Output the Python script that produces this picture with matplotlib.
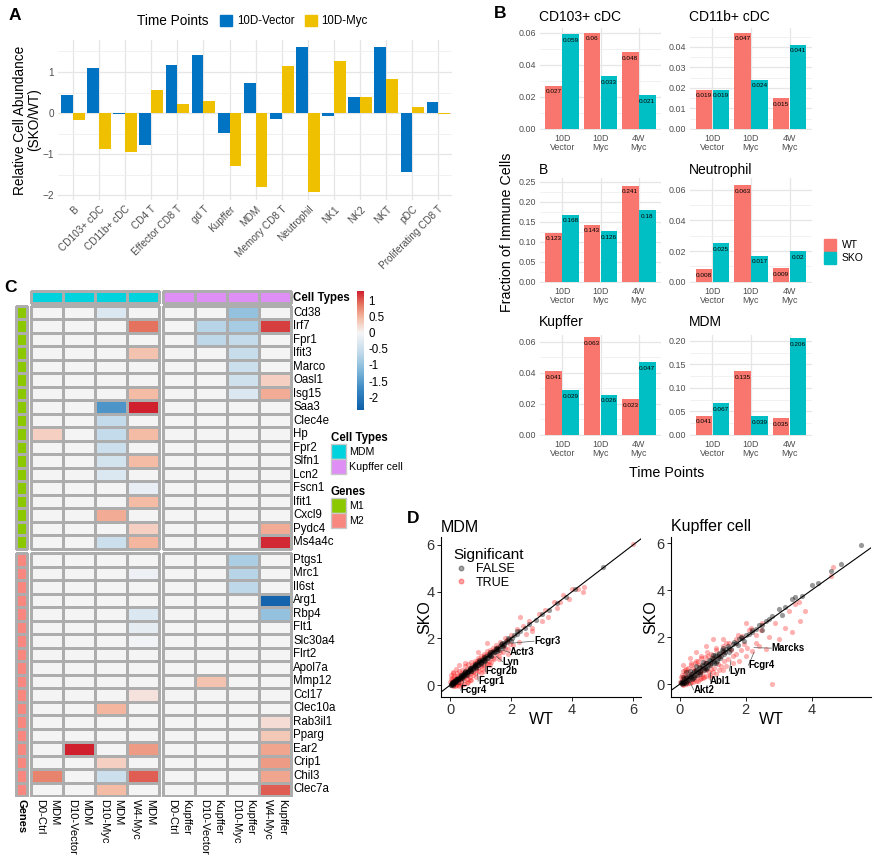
import numpy as np
import matplotlib
matplotlib.use('Agg')
import matplotlib.pyplot as plt
from matplotlib.colors import LinearSegmentedColormap, ListedColormap, Normalize
from matplotlib.cm import ScalarMappable
from matplotlib.patches import Patch
from matplotlib.lines import Line2D

plt.rcParams['font.family'] = ['Liberation Sans', 'DejaVu Sans']

W, H = 878, 863

# ---------------- data: panel A
a_cells = ['B', 'CD103+ cDC', 'CD11b+ cDC', 'CD4 T', 'Effector CD8 T', 'gd T', 'Kupffer', 'MDM',
           'Memory CD8 T', 'Neutrophil', 'NK1', 'NK2', 'NKT', 'pDC', 'Proliferating CD8 T']
a_vector = [0.45, 1.10, -0.02, -0.78, 1.18, 1.42, -0.48, 0.73, -0.15, 1.60, -0.07, 0.40, 1.61, -1.44, 0.27]
a_myc = [-0.18, -0.87, -0.95, 0.55, 0.22, 0.30, -1.29, -1.80, 1.15, -1.92, 1.26, 0.40, 0.84, 0.15, -0.03]

# ---------------- data: panel B
b_times = ['10D\nVector', '10D\nMyc', '4W\nMyc']
b_cells = ['CD103+ cDC', 'CD11b+ cDC', 'B', 'Neutrophil', 'Kupffer', 'MDM']
b_wt = [[0.027, 0.06, 0.048], [0.019, 0.047, 0.015], [0.123, 0.143, 0.241],
        [0.008, 0.063, 0.009], [0.041, 0.063, 0.023], [0.041, 0.135, 0.035]]
b_sko = [[0.059, 0.033, 0.021], [0.019, 0.024, 0.041], [0.168, 0.126, 0.18],
         [0.025, 0.017, 0.02], [0.029, 0.026, 0.047], [0.067, 0.039, 0.206]]
b_ticks = [[0, 0.02, 0.04, 0.06], [0, 0.01, 0.02, 0.03, 0.04], [0, 0.05, 0.10, 0.15, 0.20, 0.25],
           [0, 0.02, 0.04, 0.06], [0, 0.02, 0.04, 0.06], [0, 0.05, 0.10, 0.15, 0.20]]
b_top = [0.063, 0.0492, 0.26, 0.0677, 0.0645, 0.2126]

# ---------------- data: panel C
hm_times = ['D0-Ctrl', 'D10-Vector', 'D10-Myc', 'W4-Myc']
m1_genes = ['Cd38', 'Irf7', 'Fpr1', 'Ifit3', 'Marco', 'Oasl1', 'Isg15', 'Saa3', 'Clec4e', 'Hp', 'Fpr2',
            'Slfn1', 'Lcn2', 'Fscn1', 'Ifit1', 'Cxcl9', 'Pydc4', 'Ms4a4c']
m2_genes = ['Ptgs1', 'Mrc1', 'Il6st', 'Arg1', 'Rbp4', 'Flt1', 'Slc30a4', 'Flrt2', 'Apol7a', 'Mmp12',
            'Ccl17', 'Clec10a', 'Rab3il1', 'Pparg', 'Ear2', 'Crip1', 'Chil3', 'Clec7a']
m1_mdm = [[0, 0, -0.3, 0], [0, 0, 0, 0.9], [0, 0, 0, 0], [0, 0, 0, 0.4], [0, 0, 0, 0], [0, 0, 0, 0],
          [0, 0, 0, 0.45], [0, 0, -1.6, 1.3], [0, 0, -0.6, 0], [0.3, 0, -0.6, 0.45], [0, 0, -0.5, 0],
          [0, 0, -0.4, 0.45], [0, 0, -0.3, 0], [0, 0, 0, -0.15], [0, 0, 0, 0.45], [0, 0, 0.55, 0],
          [0, 0, 0, 0.3], [0, 0, -0.5, 0.5]]
m1_kup = [[0, 0, -1.0, 0], [0, -0.7, -0.85, 1.15], [0, -0.65, -0.6, 0], [0, 0, -0.55, 0], [0, 0, -0.5, 0],
          [0, 0, -0.45, 0.3], [0, 0, -0.3, 0.55], [0, 0, 0, 0], [0, 0, 0, 0], [0, 0, 0, 0], [0, 0, 0, 0],
          [0, 0, 0, 0], [0, 0, 0, 0], [0, 0, 0, 0], [0, 0, 0, 0], [0, 0, 0, 0], [0, 0, 0, 0.55],
          [0, 0, 0, 1.25]]
m2_mdm = [[0, 0, 0, 0], [0, 0, 0, -0.1], [0, 0, 0, 0], [0, 0, 0, 0], [0, 0, 0, -0.3], [0, 0, 0, -0.2],
          [0, 0, 0, -0.05], [0, 0, 0, 0], [0, 0, 0, 0], [0, 0, 0, 0], [0, 0, 0, 0.15], [0, 0, 0.5, 0],
          [0, 0, 0, 0], [0, 0, 0, 0], [0, 1.3, 0, 0.65], [0, 0, 0.3, 0], [0.8, 0, -0.5, 1.0],
          [0, 0, 0.45, 0]]
m2_kup = [[0, 0, -0.8, 0], [0, 0, -0.7, 0], [0, 0, -0.65, 0], [0, 0, 0, -2.3], [0, 0, 0, -1.0],
          [0, 0, 0, 0], [0, 0, 0, 0], [0, 0, 0, 0], [0, 0, 0, 0], [0, 0.4, 0, 0], [0, 0, 0, 0],
          [0, 0, 0, 0], [0, 0, 0, 0.2], [0, 0, 0, 0.35], [0, 0, 0, 0.6], [0, 0, 0, 0.65],
          [0, 0, 0, 0.6], [0, 0, 0, 1.0]]

# ---------------- data: panel D (WT, SKO)
mdm_false = [(0.02, 0.04), (0.04, 0.02), (0.06, 0.08), (0.08, 0.06), (0.1, 0.12), (0.12, 0.1), (0.14, 0.16),
             (0.16, 0.14), (0.18, 0.2), (0.2, 0.18), (0.23, 0.25), (0.26, 0.24), (0.29, 0.31), (0.32, 0.3),
             (0.35, 0.37), (0.38, 0.36), (0.41, 0.44), (0.44, 0.42), (0.47, 0.5), (0.5, 0.48), (0.54, 0.57),
             (0.58, 0.56), (0.62, 0.65), (0.66, 0.64), (0.7, 0.73), (0.74, 0.72), (0.78, 0.81), (0.82, 0.8),
             (0.86, 0.89), (0.9, 0.88), (0.95, 0.98), (1.0, 0.97), (1.05, 1.08), (1.1, 1.07), (1.15, 1.18),
             (1.2, 1.17), (1.26, 1.29), (1.32, 1.3), (1.38, 1.41), (1.44, 1.42), (1.5, 1.53), (1.57, 1.55),
             (1.64, 1.67), (1.71, 1.69), (1.78, 1.81), (1.86, 1.84), (1.94, 1.97), (2.02, 2.0), (2.1, 2.13),
             (2.2, 2.18), (2.3, 2.33), (2.45, 2.43), (2.6, 2.63), (2.8, 2.78), (3.0, 3.03), (3.25, 3.22),
             (3.5, 3.52), (3.8, 3.78), (4.1, 4.12), (5.0, 5.05), (0.05, 0.13), (0.1, 0.02), (0.2, 0.28),
             (0.25, 0.15), (0.35, 0.45), (0.4, 0.3), (0.5, 0.6), (0.55, 0.45), (0.65, 0.75), (0.7, 0.6),
             (0.8, 0.9), (0.85, 0.75), (0.95, 1.06), (1.0, 0.9), (1.1, 1.2), (1.15, 1.05), (1.3, 1.4),
             (1.35, 1.25), (1.5, 1.6), (1.55, 1.45), (1.7, 1.8), (1.75, 1.65), (1.9, 2.0), (2.0, 1.9),
             (2.2, 2.3), (0.03, 0.0), (0.07, 0.1), (0.11, 0.08), (0.13, 0.18), (0.17, 0.12), (0.21, 0.24),
             (0.24, 0.2), (0.27, 0.32), (0.31, 0.27), (0.34, 0.4), (0.37, 0.33), (0.42, 0.48), (0.45, 0.4),
             (0.49, 0.55), (0.52, 0.47), (0.57, 0.62), (0.6, 0.54), (0.64, 0.7), (0.68, 0.62), (0.72, 0.78),
             (0.76, 0.68), (0.8, 0.86), (0.84, 0.77), (0.88, 0.95), (0.92, 0.85), (0.97, 1.03), (1.02, 0.95),
             (1.07, 1.13), (1.12, 1.04), (1.18, 1.24), (1.23, 1.14), (1.28, 1.35), (1.34, 1.26), (1.4, 1.46),
             (1.47, 1.4), (1.54, 1.6), (1.6, 1.52), (1.68, 1.74), (1.76, 1.7), (1.84, 1.9)]
mdm_true = [(0.0, 0.15), (0.05, 0.3), (0.1, -0.02), (0.12, 0.4), (0.18, 0.02), (0.22, 0.5), (0.28, 0.08),
            (0.3, 0.6), (0.35, 0.15), (0.4, 0.65), (0.45, 0.2), (0.5, 0.8), (0.55, 0.28), (0.6, 0.9),
            (0.65, 0.35), (0.7, 1.0), (0.75, 0.42), (0.8, 1.05), (0.85, 0.5), (0.9, 1.15), (0.95, 0.6),
            (1.0, 1.25), (1.05, 0.7), (1.1, 1.35), (1.15, 0.8), (1.2, 1.45), (1.25, 0.9), (1.3, 1.5),
            (1.35, 1.0), (1.4, 1.6), (1.45, 1.1), (1.5, 1.7), (1.6, 1.25), (1.65, 1.85), (1.75, 1.4),
            (1.8, 2.0), (1.9, 1.55), (2.0, 2.15), (2.05, 1.7), (2.2, 2.4), (2.25, 1.85), (2.4, 2.55),
            (2.5, 2.2), (2.6, 2.75), (2.7, 2.45), (2.9, 3.05), (3.0, 2.75), (3.1, 3.2), (3.2, 2.9),
            (3.4, 3.55), (3.5, 3.3), (3.6, 3.55), (3.7, 3.85), (3.9, 3.7), (4.0, 4.1), (4.2, 4.1),
            (4.35, 4.0), (4.4, 4.2), (6.0, 6.05), (0.25, 0.0), (0.45, 0.05), (0.6, 0.15), (0.08, 0.5),
            (0.3, 0.85), (0.9, 1.4), (1.2, 1.8), (2.3, 2.9), (0.7, 0.2), (1.0, 0.5), (2.7, 2.3),
            (0.02, 0.25), (0.06, 0.1), (0.1, 0.22), (0.14, 0.05), (0.16, 0.32), (0.2, 0.12), (0.24, 0.38),
            (0.27, 0.2), (0.32, 0.45), (0.36, 0.25), (0.4, 0.52), (0.42, 0.3), (0.48, 0.6), (0.52, 0.38),
            (0.56, 0.68), (0.6, 0.45), (0.64, 0.72), (0.68, 0.5), (0.72, 0.85), (0.76, 0.58), (0.8, 0.95),
            (0.84, 0.65), (0.88, 1.02), (0.92, 0.72), (0.96, 1.08), (1.0, 0.8), (1.04, 1.15), (1.08, 0.88),
            (1.12, 1.25), (1.16, 0.95), (1.22, 1.32), (1.28, 1.05), (1.34, 1.42), (1.4, 1.15), (1.46, 1.55),
            (1.52, 1.3), (1.58, 1.65), (1.64, 1.4), (1.72, 1.75), (1.8, 1.6), (1.88, 1.95), (1.96, 1.75),
            (0.15, -0.05), (0.3, -0.02), (0.04, 0.42), (0.1, 0.55), (0.4, 0.0), (0.55, 0.1), (0.2, 0.7),
            (0.5, 0.95), (0.65, 0.2), (0.85, 0.35), (1.1, 0.6), (1.3, 0.85), (1.6, 1.1), (1.9, 1.35)]
kup_false = [(0.02, 0.03), (0.05, 0.08), (0.08, 0.04), (0.1, 0.15), (0.15, 0.1), (0.2, 0.25), (0.25, 0.2),
             (0.3, 0.36), (0.35, 0.3), (0.4, 0.47), (0.45, 0.4), (0.5, 0.57), (0.55, 0.5), (0.6, 0.68),
             (0.65, 0.6), (0.7, 0.78), (0.75, 0.7), (0.8, 0.88), (0.85, 0.8), (0.9, 0.98), (0.95, 0.9),
             (1.0, 1.08), (1.05, 1.0), (1.1, 1.2), (1.15, 1.1), (1.2, 1.3), (1.25, 1.2), (1.3, 1.4),
             (1.35, 1.3), (1.4, 1.5), (1.5, 1.55), (1.6, 1.7), (1.7, 1.75), (1.8, 1.9), (1.9, 1.95),
             (2.0, 2.1), (2.1, 2.15), (2.2, 2.3), (2.3, 2.35), (2.4, 2.5), (2.5, 2.5), (2.6, 2.7),
             (2.7, 2.75), (2.8, 2.9), (3.0, 3.2), (3.1, 2.95), (3.2, 3.3), (3.4, 3.6), (3.5, 3.7),
             (3.7, 3.75), (4.0, 4.2), (4.2, 4.3), (4.6, 4.8), (4.9, 5.1), (5.5, 5.9), (0.1, 0.3),
             (0.2, 0.05), (0.3, 0.55), (0.4, 0.25), (0.5, 0.75), (0.6, 0.45), (0.7, 0.95), (0.8, 0.65),
             (1.0, 1.25), (1.1, 0.9), (1.3, 1.55), (1.5, 1.35), (0.2, 0.5), (2.2, 2.2), (2.5, 2.3),
             (0.03, 0.1), (0.06, 0.0), (0.12, 0.2), (0.13, 0.05), (0.18, 0.3), (0.22, 0.12), (0.27, 0.35),
             (0.28, 0.18), (0.33, 0.42), (0.37, 0.22), (0.42, 0.55), (0.43, 0.32), (0.48, 0.62), (0.52, 0.4),
             (0.58, 0.72), (0.62, 0.5), (0.68, 0.82), (0.72, 0.6), (0.78, 0.9), (0.82, 0.7), (0.88, 1.02),
             (0.92, 0.8), (0.98, 1.12), (1.02, 0.9), (1.08, 1.22), (1.12, 1.0), (1.18, 1.32), (1.22, 1.1),
             (1.28, 1.45), (1.38, 1.38), (1.45, 1.6), (1.55, 1.5), (1.65, 1.8), (1.75, 1.65), (1.85, 2.0),
             (1.95, 1.85)]
kup_true = [(0.0, 0.1), (0.05, 0.4), (0.1, -0.05), (0.15, 0.6), (0.2, 0.0), (0.25, 0.7), (0.3, 0.05),
            (0.35, 0.8), (0.4, 0.1), (0.45, 0.9), (0.5, 0.15), (0.55, 1.0), (0.6, 0.2), (0.65, 1.1),
            (0.7, 0.25), (0.75, 1.15), (0.8, 0.35), (0.85, 1.2), (0.9, 0.4), (0.95, 1.3), (1.0, 0.5),
            (1.1, 1.45), (1.2, 0.6), (1.3, 1.6), (1.4, 0.75), (1.5, 1.75), (1.6, 0.9), (1.7, 1.9),
            (1.8, 1.0), (1.9, 2.05), (2.0, 1.2), (2.1, 2.3), (2.2, 1.4), (2.3, 2.1), (2.4, 1.6),
            (2.5, 2.6), (2.6, 1.5), (2.7, 2.0), (2.8, 0.0), (2.9, 2.6), (3.0, 1.9), (3.2, 2.4),
            (3.3, 3.1), (3.4, 2.2), (3.5, 3.4), (3.6, 3.5), (3.65, 2.7), (3.8, 3.1), (4.6, 4.6),
            (4.65, 5.0), (0.1, 0.8), (0.3, 1.1), (0.5, 1.35), (0.8, 1.6), (1.0, 1.9), (1.3, 1.9),
            (2.0, 2.6), (0.2, 0.3), (0.6, 0.55), (0.02, 0.3), (0.05, 0.2), (0.08, 0.55), (0.12, 0.25),
            (0.16, 0.45), (0.2, 0.65), (0.22, 0.15), (0.26, 0.5), (0.3, 0.3), (0.33, 0.9), (0.36, 0.45),
            (0.4, 0.7), (0.43, 0.2), (0.47, 0.6), (0.5, 1.0), (0.53, 0.35), (0.57, 0.8), (0.6, 0.5),
            (0.63, 1.2), (0.67, 0.45), (0.7, 0.7), (0.73, 0.3), (0.77, 0.95), (0.8, 0.6), (0.83, 1.35),
            (0.87, 0.5), (0.9, 0.85), (0.95, 0.65), (1.0, 1.1), (1.05, 0.7), (1.1, 1.55), (1.15, 0.85),
            (1.2, 1.2), (1.25, 0.75), (1.3, 1.35), (1.35, 1.0), (1.4, 1.75), (1.45, 1.05), (1.55, 1.45),
            (1.6, 1.2), (1.7, 1.3), (1.75, 2.1), (1.85, 1.45), (1.95, 1.7), (2.05, 1.55), (2.15, 2.4),
            (2.3, 1.75), (2.45, 2.3), (0.1, 0.0), (0.25, 0.05), (0.35, 0.1), (0.55, 0.15), (0.65, 0.25),
            (0.9, 0.3), (1.1, 0.45), (1.3, 0.6)]
mdm_labels = ['Fcgr3', 'Actr3', 'Lyn', 'Fcgr2b', 'Fcgr1', 'Fcgr4']
mdm_label_pts = [(2.05, 1.8), (1.7, 1.5), (1.5, 1.25), (1.15, 0.95), (0.9, 0.5), (0.45, 0.2)]
mdm_label_txt = [(2.75, 1.88), (1.95, 1.4), (1.72, 1.0), (1.15, 0.6), (0.92, 0.17), (0.35, -0.22)]
kup_labels = ['Marcks', 'Fcgr4', 'Lyn', 'Abl1', 'Akt2']
kup_label_pts = [(2.25, 1.55), (2.25, 1.35), (1.55, 1.0), (0.9, 0.5), (0.3, 0.1)]
kup_label_txt = [(2.78, 1.53), (2.08, 0.8), (1.5, 0.55), (0.9, 0.13), (0.42, -0.25)]


fig = plt.figure(figsize=(W / 100, H / 100), dpi=100)


def px_axes(x0, y0, x1, y1):
    return fig.add_axes([x0 / W, 1 - y1 / H, (x1 - x0) / W, (y1 - y0) / H])


def ftext(x, y, s, **kw):
    return fig.text(x / W, 1 - y / H, s, **kw)


# panel letters
for lab, (lx, ly) in zip('ABCD', [(15, 15), (500, 14), (11, 287), (413, 518)]):
    ftext(lx, ly, lab, fontsize=12.5, fontweight='bold', ha='center', va='center')

grey30 = '#4D4D4D'

# ---------------- Panel A
blue, yellow = '#0073C2', '#EFC000'
axA = px_axes(58, 40, 452, 200)
xa = np.arange(1, len(a_cells) + 1)
axA.bar(xa - 0.225, a_vector, width=0.45, color=blue)
axA.bar(xa + 0.225, a_myc, width=0.45, color=yellow)
axA.set_xlim(0.43, 15.52)
axA.set_ylim(-2.12, 1.78)
axA.set_yticks([-2, -1, 0, 1])
axA.set_yticks([-1.5, -0.5, 0.5, 1.5], minor=True)
axA.set_xticks(xa)
axA.set_xticklabels(a_cells, rotation=45, ha='right', rotation_mode='anchor')
axA.grid(which='major', color='#E6E6E6', lw=0.9)
axA.grid(which='minor', axis='y', color='#EFEFEF', lw=0.6)
axA.set_axisbelow(True)
for s in axA.spines.values():
    s.set_visible(False)
axA.tick_params(which='both', length=0, labelsize=7.2, labelcolor=grey30, pad=3)
axA.set_ylabel('Relative Cell Abundance\n(SKO/WT)', fontsize=9.8, linespacing=1.05)
axA.yaxis.set_label_coords(-0.043, 0.5)
ftext(137, 21, 'Time Points', fontsize=9.8, va='center')
fig.legend(handles=[Patch(color=blue, label='10D-Vector'), Patch(color=yellow, label='10D-Myc')],
           ncol=2, loc='center left', bbox_to_anchor=(220 / W, 1 - 21 / H), frameon=False,
           fontsize=8.3, handlelength=1.05, handleheight=1.1, columnspacing=0.9,
           handletextpad=0.4, borderpad=0, borderaxespad=0)

# ---------------- Panel B
wt_col, sko_col = '#F8766D', '#00BFC4'
b_boxes = [(540, 28, 661, 130), (690, 28, 812, 130), (540, 178, 661, 283), (690, 178, 812, 283),
           (540, 335, 661, 436), (690, 335, 812, 436)]
b_title_y = [17, 17, 170, 170, 322, 322]
xb = np.arange(len(b_times))
for k, name in enumerate(b_cells):
    x0, y0, x1, y1 = b_boxes[k]
    ax = px_axes(x0, y0, x1, y1)
    r1 = ax.bar(xb - 0.222, b_wt[k], width=0.43, color=wt_col)
    r2 = ax.bar(xb + 0.222, b_sko[k], width=0.43, color=sko_col)
    ax.bar_label(r1, fmt='%g', padding=-6.2, fontsize=4.6)
    ax.bar_label(r2, fmt='%g', padding=-6.2, fontsize=4.6)
    ax.set_xlim(-0.58, 2.58)
    ax.set_ylim(-0.012 * b_top[k], b_top[k])
    tk = b_ticks[k]
    step = tk[1] - tk[0]
    ax.set_yticks(tk)
    ax.set_yticklabels(['%.2f' % t for t in tk])
    ax.set_yticks([t + step / 2 for t in tk if t + step / 2 < b_top[k]], minor=True)
    ax.set_xticks(xb)
    ax.set_xticklabels(b_times, linespacing=1.0)
    ax.grid(which='major', color='#E6E6E6', lw=0.9)
    ax.grid(which='minor', axis='y', color='#EFEFEF', lw=0.6)
    ax.set_axisbelow(True)
    for s in ax.spines.values():
        s.set_visible(False)
    ax.tick_params(which='both', length=0, labelsize=6.4, labelcolor=grey30, pad=3)
    ftext(x0 - 1, b_title_y[k], name, fontsize=10, va='center')
ftext(507, 232, 'Fraction of Immune Cells', fontsize=10.3, rotation=90, ha='center', va='center')
ftext(667, 473, 'Time Points', fontsize=10.3, ha='center', va='center')
fig.legend(handles=[Patch(color=wt_col, label='WT'), Patch(color=sko_col, label='SKO')],
           loc='upper left', bbox_to_anchor=(824 / W, 1 - 239 / H), frameon=False, fontsize=7.5,
           handlelength=1.2, handleheight=1.4, labelspacing=0.05, handletextpad=0.5,
           borderpad=0, borderaxespad=0)

# ---------------- Panel C
cnodes = [(-2.4, '#0D5FA8'), (-1.8, '#3584C2'), (-1.2, '#7DB5D8'), (-0.6, '#C3DBEA'), (0.0, '#F5F5F7'),
          (0.5, '#F4B69E'), (0.9, '#E47460'), (1.3, '#D01F2D')]
vmin, vmax = -2.4, 1.3
cmap = LinearSegmentedColormap.from_list('hm', [((v - vmin) / (vmax - vmin), c) for v, c in cnodes])
norm = Normalize(vmin, vmax)
edge = '#ADADAD'
cw, rh = 32.0, 13.5
xs0, ys0 = 31, 306
xl, xr, yt, yb = -0.55, 8.2, -1.2, 36.4
axC = px_axes(xs0 + cw * xl, ys0 + rh * yt, xs0 + cw * xr, ys0 + rh * yb)
axC.set_xlim(xl, xr)
axC.set_ylim(yb, yt)
axC.axis('off')
mdm_x = np.arange(5)
kup_x = np.arange(5) + 4.125
m1_y = np.arange(19)
m2_y = np.arange(19) + 18.3
for xe, ye, vals in [(mdm_x, m1_y, m1_mdm), (kup_x, m1_y, m1_kup), (mdm_x, m2_y, m2_mdm), (kup_x, m2_y, m2_kup)]:
    axC.pcolormesh(xe, ye, np.array(vals), cmap=cmap, norm=norm, edgecolors=edge, linewidth=0.8)
cyan, violet, green, salmon = '#00D3DD', '#DE8EF4', '#8CC800', '#F8877F'
axC.pcolormesh(mdm_x, [-1.1, -0.2], np.zeros((1, 4)), cmap=ListedColormap([cyan]), edgecolors=edge, linewidth=0.8)
axC.pcolormesh(kup_x, [-1.1, -0.2], np.zeros((1, 4)), cmap=ListedColormap([violet]), edgecolors=edge, linewidth=0.8)
axC.pcolormesh([-0.47, -0.12], m1_y, np.zeros((18, 1)), cmap=ListedColormap([green]), edgecolors=edge, linewidth=0.8)
axC.pcolormesh([-0.47, -0.12], m2_y, np.zeros((18, 1)), cmap=ListedColormap([salmon]), edgecolors=edge, linewidth=0.8)
for i, g in enumerate(m1_genes):
    axC.text(8.2, m1_y[i] + 0.5, g, fontsize=8.3, ha='left', va='center')
for i, g in enumerate(m2_genes):
    axC.text(8.2, m2_y[i] + 0.5, g, fontsize=8.3, ha='left', va='center')
axC.text(8.2, -0.62, 'Cell Types', fontsize=8.3, fontweight='bold', ha='left', va='center')
for j, t in enumerate(hm_times):
    axC.text(mdm_x[j] + 0.5, 36.55, 'MDM\n' + t, rotation=270, fontsize=8.0, ha='center', va='top',
             multialignment='left', linespacing=1.45)
    axC.text(kup_x[j] + 0.5, 36.55, 'Kupffer\n' + t, rotation=270, fontsize=8.0, ha='center', va='top',
             multialignment='left', linespacing=1.45)
axC.text(-0.295, 36.55, 'Genes', rotation=270, fontsize=8.0, fontweight='bold', ha='center', va='top')

cax = px_axes(357, 291, 364, 410)
cb = fig.colorbar(ScalarMappable(norm=norm, cmap=cmap), cax=cax)
cb.outline.set_visible(False)
cb.set_ticks([-2, -1.5, -1, -0.5, 0, 0.5, 1])
cb.set_ticklabels(['-2', '-1.5', '-1', '-0.5', '0', '0.5', '1'])
cax.tick_params(length=0, labelsize=8.3, pad=3)

legkw = dict(loc='upper left', frameon=False, fontsize=7.7, alignment='left',
             title_fontproperties={'weight': 'bold', 'size': 8.3}, handlelength=1.4, handleheight=1.8,
             labelspacing=0.0, handletextpad=0.3, borderpad=0, borderaxespad=0)
fig.legend(handles=[Patch(fc=cyan, ec='#C8C8C8', label='MDM'), Patch(fc=violet, ec='#C8C8C8', label='Kupffer cell')],
           title='Cell Types', bbox_to_anchor=(331 / W, 1 - 432 / H), **legkw)
fig.legend(handles=[Patch(fc=green, ec='#C8C8C8', label='M1'), Patch(fc=salmon, ec='#C8C8C8', label='M2')],
           title='Genes', bbox_to_anchor=(331 / W, 1 - 486 / H), **legkw)

# ---------------- Panel D
d_specs = [
    ('MDM', (441, 537, 641, 697), (-0.3, 6.26), (-0.51, 6.34), [0, 2, 4, 6], mdm_false, mdm_true,
     mdm_labels, mdm_label_pts, mdm_label_txt, -0.045),
    ('Kupffer cell', (671, 537, 871, 697), (-0.27, 5.8), (-0.55, 6.26), [0, 2, 4], kup_false, kup_true,
     kup_labels, kup_label_pts, kup_label_txt, -0.065),
]
for k, (title, box, xlim, ylim, xt, fpts, tpts, labs, lpts, ltxt, ylx) in enumerate(d_specs):
    ax = px_axes(*box)
    tx, ty = zip(*tpts)
    fx, fy = zip(*fpts)
    ax.scatter(tx, ty, s=14, color='red', alpha=0.3, linewidths=0)
    ax.scatter(fx, fy, s=14, color='black', alpha=0.4, linewidths=0)
    ax.axline((0, 0), slope=1, color='black', lw=0.8)
    for lab, (px_, py_), (qx, qy) in zip(labs, lpts, ltxt):
        ax.plot([px_, qx], [py_, qy], color='#555555', lw=0.5)
        ax.text(qx, qy, lab, fontsize=6.9, fontweight='bold', ha='left', va='center')
    ax.set_xlim(*xlim)
    ax.set_ylim(*ylim)
    ax.set_xticks(xt)
    ax.set_yticks([0, 2, 4, 6])
    for s in ['top', 'right']:
        ax.spines[s].set_visible(False)
    for s in ['left', 'bottom']:
        ax.spines[s].set_linewidth(0.8)
    ax.tick_params(length=3, width=0.6, labelsize=10.5, labelcolor='#333333', pad=1.5)
    ax.set_xlabel('WT', fontsize=11.5)
    ax.set_ylabel('SKO', fontsize=11.5)
    ax.xaxis.set_label_coords(0.5, -0.095)
    ax.yaxis.set_label_coords(ylx, 0.5)
    ftext(box[0], 527, title, fontsize=11.5, va='center')
    if k == 0:
        h = [Line2D([], [], marker='o', ls='', color='black', alpha=0.35, markersize=3.3, label='FALSE'),
             Line2D([], [], marker='o', ls='', color='red', alpha=0.35, markersize=3.3, label='TRUE')]
        ax.legend(handles=h, title='Significant', loc='upper left', bbox_to_anchor=(0.03, 0.97),
                  frameon=False, fontsize=9, title_fontsize=11, alignment='left', labelspacing=0.1,
                  handletextpad=0.6, borderpad=0, handlelength=1.2)

fig.savefig('out.png', dpi=100)
